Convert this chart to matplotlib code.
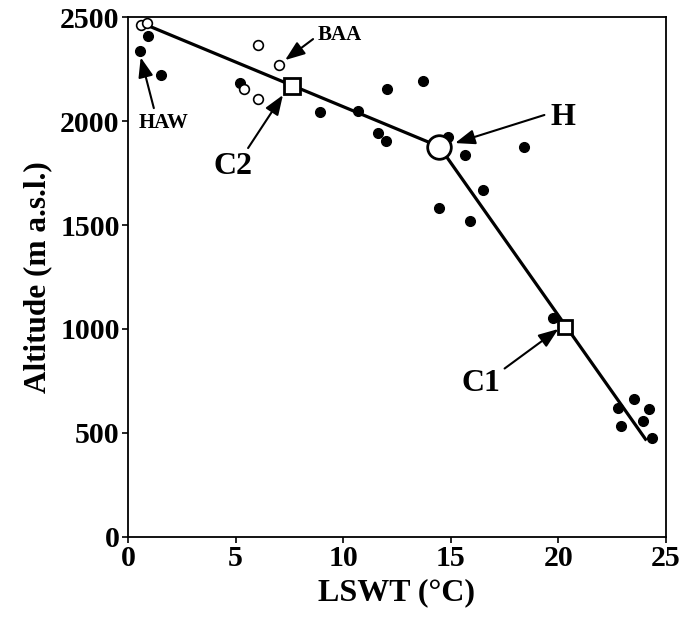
import matplotlib.pyplot as plt

plt.rcParams['font.family'] = ['Liberation Serif', 'DejaVu Serif']
plt.rcParams['font.weight'] = 'bold'

# Lagos (pontos cheios)
lswt_filled = [0.56, 0.94, 1.53, 5.19, 8.94, 10.71, 11.64, 11.97, 12.05, 13.72,
               14.85, 15.68, 18.41, 16.48, 14.47, 15.88, 19.73,
               23.5, 22.78, 24.2, 23.93, 22.9, 24.35]
alt_filled = [2338, 2409, 2220, 2181, 2045, 2048, 1941, 1904, 2152, 2192,
              1925, 1837, 1877, 1668, 1583, 1521, 1054,
              663, 622, 615, 558, 534, 477]

# Pontos abertos
lswt_open = [0.59, 0.89, 6.06, 7.0, 5.37, 6.06]
alt_open = [2462, 2470, 2365, 2269, 2155, 2106]

# Linha do modelo
lswt_line = [0.85, 14.47, 24.05]
alt_line = [2462, 1877, 470]

# Pontos especiais
c2 = (7.61, 2170)
c1 = (20.31, 1011)
h = (14.47, 1877)

fig = plt.figure(figsize=(6.82, 6.17), dpi=100)
ax = fig.add_axes([0.1877, 0.1297, 0.9765 - 0.1877, 0.9724 - 0.1297])

ax.plot(lswt_line, alt_line, color='black', lw=2.3, zorder=2)
ax.plot(lswt_filled, alt_filled, 'o', color='black', ms=7, zorder=3)
ax.plot(lswt_open, alt_open, 'o', mfc='white', mec='black', mew=1.2, ms=7, zorder=3)
ax.plot(*c2, 's', mfc='white', mec='black', mew=2, ms=11, zorder=4)
ax.plot(*c1, 's', mfc='white', mec='black', mew=2, ms=10, zorder=4)
ax.plot(*h, 'o', mfc='white', mec='black', mew=2, ms=17, zorder=4)

seta = dict(arrowstyle='-|>,head_length=0.8,head_width=0.3', color='black',
            lw=1.5, mutation_scale=15, shrinkA=0, shrinkB=0)

# (texto, posição do texto, ponta da seta, cauda da seta, tamanho)
anotacoes = [
    ('BAA', (8.8, 2413), (7.3, 2293), (8.6, 2394), 15, 'left'),
    ('HAW', (1.67, 1990), (0.59, 2306), (1.2, 2062), 15, 'center'),
    ('C2', (4.88, 1779), (7.2, 2125), (5.58, 1870), 23, 'center'),
    ('H', (20.2, 2019), (15.2, 1894), (19.35, 2029), 23, 'center'),
    ('C1', (16.4, 740), (20.0, 1000), (17.5, 810), 23, 'center'),
]
for txt, pos, ponta, cauda, fs, ha in anotacoes:
    ax.annotate('', xy=ponta, xytext=cauda, arrowprops=seta)
    ax.text(pos[0], pos[1], txt, fontsize=fs, fontweight='bold', ha=ha, va='center')

ax.set_xlim(0, 25)
ax.set_ylim(0, 2500)
ax.set_xticks([0, 5, 10, 15, 20, 25])
ax.set_yticks([0, 500, 1000, 1500, 2000, 2500])
ax.tick_params(direction='out', length=4, width=1.2, labelsize=21.5, pad=2)
for lab in ax.get_xticklabels() + ax.get_yticklabels():
    lab.set_fontweight('bold')
for s in ax.spines.values():
    s.set_linewidth(1.3)

ax.set_xlabel('LSWT (°C)', fontsize=23, fontweight='bold', labelpad=4)
ax.set_ylabel('Altitude (m a.s.l.)', fontsize=22.5, fontweight='bold', labelpad=6)

fig.savefig('out.png', dpi=100)
